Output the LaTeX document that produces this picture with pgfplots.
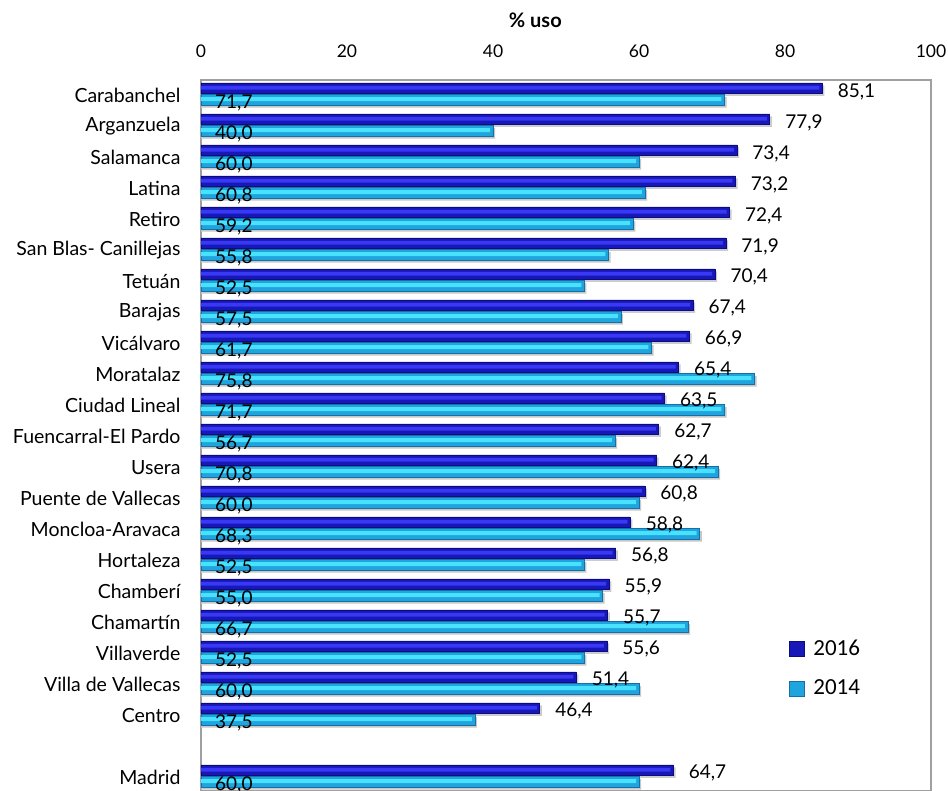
\documentclass[border=0pt]{standalone}
\usepackage{pgfplots}
\pgfplotsset{compat=1.18}
\usepackage{pgfplotstable}
\usepackage{fontspec}
\setmainfont{Lato}
\newfontfamily\legfont{Carlito}

\definecolor{darkbase}{HTML}{1818B8}
\definecolor{darkmid}{HTML}{3838F5}
\definecolor{darkedge}{HTML}{0C0C80}
\definecolor{cyanbase}{HTML}{1FA4DE}
\definecolor{cyanmid}{HTML}{48E2FF}
\definecolor{cyanedge}{HTML}{1470A8}
\definecolor{framegray}{HTML}{A0A0A0}

\pgfplotstableread{
pos v16 v14
0 85.1 71.7
1 77.9 40.0
2 73.4 60.0
3 73.2 60.8
4 72.4 59.2
5 71.9 55.8
6 70.4 52.5
7 67.4 57.5
8 66.9 61.7
9 65.4 75.8
10 63.5 71.7
11 62.7 56.7
12 62.4 70.8
13 60.8 60.0
14 58.8 68.3
15 56.8 52.5
16 55.9 55.0
17 55.7 66.7
18 55.6 52.5
19 51.4 60.0
20 46.4 37.5
22 64.7 60.0
}\datatab

\begin{document}
\begin{tikzpicture}
\begin{axis}[
  name=ax,
  width=730pt, height=710.5pt, scale only axis,
  xmin=0, xmax=100, ymin=-0.5, ymax=22.42, y dir=reverse,
  xtick={0,20,40,60,80,100},
  xticklabel pos=right,
  ytick={0,1,2,3,4,5,6,7,8,9,10,11,12,13,14,15,16,17,18,19,20,22},
  yticklabels={Carabanchel,Arganzuela,Salamanca,Latina,Retiro,San Blas- Canillejas,Tetuán,Barajas,Vicálvaro,Moratalaz,Ciudad Lineal,Fuencarral-El Pardo,Usera,Puente de Vallecas,Moncloa-Aravaca,Hortaleza,Chamberí,Chamartín,Villaverde,Villa de Vallecas,Centro,Madrid},
  major tick length=0pt,
  tick style={draw=none},
  axis line style={draw=framegray, line width=1.5pt},
  /pgf/number format/assume math mode=true,
  xticklabel style={font=\fontsize{17.5}{20}\selectfont, yshift=19pt},
  yticklabel style={font=\fontsize{19.5}{22}\selectfont, xshift=-17pt},
  xlabel={\textbf{\% uso}},
  xlabel style={at={(axis description cs:0.458,1)}, anchor=center, yshift=60pt, font=\fontsize{20}{23}\selectfont},
  legend style={draw=none, fill=none, at={(axis description cs:0.805,0.215)}, anchor=north west,
    font=\legfont\fontsize{23}{26}\selectfont, row sep=19pt, inner sep=0pt,
    /tikz/every odd column/.append style={column sep=7pt}},
  legend cell align=left,
  clip=false,
]
% shadows
\addplot[xbar, bar width=0.34, bar shift=-0.16, draw=none, fill=gray!40, forget plot]
  table[x expr=\thisrow{v16}+0.3, y=pos] \datatab;
\addplot[xbar, bar width=0.34, bar shift=0.22, draw=none, fill=gray!45, forget plot]
  table[x expr=\thisrow{v14}+0.3, y=pos] \datatab;
% bars 2016
\addplot[xbar, bar width=0.34, bar shift=-0.24, draw=darkedge, line width=0.5pt, fill=darkbase,
  area legend,
  legend image code/.code={\draw[draw=darkedge, fill=darkbase] (0pt,-8pt) rectangle (15pt,7pt);},
  point meta=explicit,
  nodes near coords={\pgfmathprintnumber[fixed,fixed zerofill,precision=1,use comma,assume math mode=true]{\pgfplotspointmeta}},
  every node near coord/.append style={anchor=base west, xshift=12pt, yshift=-1.5pt, font=\fontsize{19}{22}\selectfont, text=black},
  ]
  table[x=v16, y=pos, meta=v16] \datatab;
\addlegendentry{2016}
% bars 2014
\addplot[xbar, bar width=0.34, bar shift=0.14, draw=cyanedge, line width=0.5pt, fill=cyanbase,
  area legend,
  legend image code/.code={\draw[draw=cyanedge, fill=cyanbase] (0pt,-8pt) rectangle (15pt,7pt);},
  ]
  table[x=v14, y=pos] \datatab;
\addlegendentry{2014}
% highlight stripes
\addplot[xbar, bar width=0.12, bar shift=-0.25, draw=none, fill=darkmid, forget plot]
  table[x expr=\thisrow{v16}-0.4, y=pos] \datatab;
\addplot[xbar, bar width=0.13, bar shift=0.12, draw=none, fill=cyanmid, forget plot]
  table[x expr=\thisrow{v14}-0.4, y=pos] \datatab;
% labels 2014
\addplot[draw=none, mark=none, forget plot,
  point meta=explicit,
  nodes near coords={\pgfmathprintnumber[fixed,fixed zerofill,precision=1,use comma,assume math mode=true]{\pgfplotspointmeta}},
  every node near coord/.style={anchor=base west, xshift=14pt, yshift=-9pt, font=\fontsize{19}{22}\selectfont, text=black, inner sep=0pt},
  ]
  table[x expr=0, y expr=\thisrow{pos}+0.14, meta=v14] \datatab;
\end{axis}
\pgfresetboundingbox
\path[use as bounding box] ([xshift=-201pt,yshift=80pt]ax.north west) rectangle ([xshift=17pt]ax.south east);
\end{tikzpicture}
\end{document}
